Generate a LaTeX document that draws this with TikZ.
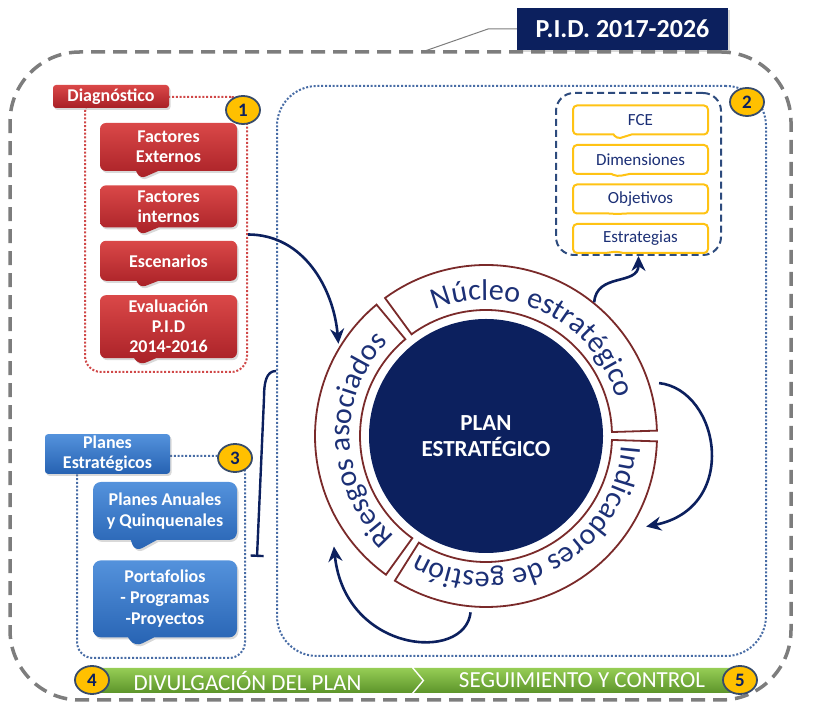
\documentclass[tikz,border=0pt]{standalone}
\usepackage{fontspec}
\setmainfont{Carlito}
\usetikzlibrary{positioning,shapes.geometric,shapes.callouts,shapes.symbols,shadows,decorations.text,arrows.meta}

\definecolor{navy}{RGB}{12,32,94}
\definecolor{inknavy}{RGB}{28,48,118}
\definecolor{framegray}{RGB}{125,125,125}
\definecolor{dotblue}{RGB}{72,108,165}
\definecolor{dotred}{RGB}{208,72,72}
\definecolor{dashnavy}{RGB}{45,75,125}
\definecolor{ringbrown}{RGB}{122,42,42}
\definecolor{redtop}{RGB}{218,72,72}
\definecolor{redbot}{RGB}{168,32,38}
\definecolor{bluetop}{RGB}{84,146,220}
\definecolor{bluebot}{RGB}{38,98,178}
\definecolor{greentop}{RGB}{150,205,85}
\definecolor{greenbot}{RGB}{92,148,42}
\definecolor{badgeyellow}{RGB}{255,192,0}
\definecolor{badgeedge}{RGB}{55,75,105}
\definecolor{boxyellow}{RGB}{255,195,20}

\newcommand{\ringfont}{\fontsize{30}{30}\selectfont}

\tikzstyle{outerframe} = [rectangle, rounded corners=70pt, draw=framegray, line width=3.5pt, dash pattern=on 14pt off 8pt]
\tikzstyle{dotframe} = [rectangle, rounded corners=16pt, line width=2pt, dash pattern=on 2pt off 1.8pt]
\tikzstyle{shade} = [drop shadow={opacity=0.3, shadow xshift=1.5pt, shadow yshift=-2pt}]
\tikzstyle{redlabel} = [rectangle, rounded corners=3pt, top color=redtop, bottom color=redbot, text=white, font=\fontsize{18}{20}\selectfont\bfseries, inner sep=2pt, shade]
\tikzstyle{bluelabel} = [rectangle, rounded corners=3pt, top color=bluetop, bottom color=bluebot, text=white, font=\fontsize{18}{20}\selectfont\bfseries, align=center, inner sep=2pt, shade]
\tikzstyle{redbox} = [rectangle callout, rounded corners=6pt, top color=redtop, bottom color=redbot, text=white, font=\fontsize{18}{20}\selectfont\bfseries, align=center, minimum width=137pt, inner sep=3pt, callout pointer width=22pt, shade]
\tikzstyle{bluebox} = [rectangle callout, rounded corners=8pt, top color=bluetop, bottom color=bluebot, text=white, font=\fontsize{18}{21}\selectfont\bfseries, align=center, minimum width=144pt, inner sep=3pt, callout pointer width=26pt, shade]
\tikzstyle{yellowbox} = [rectangle callout, rounded corners=4pt, draw=boxyellow, line width=2pt, fill=white, text=inknavy, font=\fontsize{17}{19}\selectfont, minimum width=135pt, minimum height=29pt, inner sep=2pt, callout pointer width=18pt]
\tikzstyle{badge} = [ellipse, fill=badgeyellow, draw=badgeedge, line width=1.8pt, text=navy, font=\fontsize{19}{20}\selectfont\bfseries, minimum width=34pt, minimum height=28pt, inner sep=0pt]
\tikzstyle{ringseg} = [draw=ringbrown, fill=white, line width=1.8pt]
\tikzstyle{greenbar} = [signal, top color=greentop, bottom color=greenbot, text=white, font=\fontsize{23}{25}\selectfont, minimum height=25pt, signal pointer angle=100, inner sep=0pt]
\tikzstyle{arrow} = [line width=2.6pt, draw=navy, ->, >={Stealth[length=15pt,width=14pt]}]

\begin{document}
\begin{tikzpicture}[x=1pt, y=1pt]
\useasboundingbox (0,0) rectangle (813,708);

% outer frame and title
\node (outer) [outerframe, minimum width=781pt, minimum height=648pt] at (400.5,332) {};
\coordinate (tick) at (422,656);
\node (pid) [rectangle, fill=navy, text=white, font=\fontsize{26}{28}\selectfont\bfseries, minimum width=211pt, minimum height=42pt, shade] at (622.5,679) {P.I.D. 2017-2026};
\draw [framegray, line width=1pt] (tick) -- (488,679) -- (pid.west);

% strategic area
\node (bigframe) [dotframe, draw=dotblue, rounded corners=40pt, minimum width=489pt, minimum height=570pt] at (521.5,337) {};
\node (kernel) [rectangle, draw=dashnavy, line width=2pt, dash pattern=on 7pt off 4pt, rounded corners=18pt, minimum width=165pt, minimum height=162pt] at (638.5,534) {};
\node (fce) [yellowbox, callout absolute pointer={(617,569)}] at (640.5,588) {FCE};
\node (dimen) [yellowbox, callout absolute pointer={(617,531.5)}, below=8.5pt of fce] {Dimensiones};
\node (objet) [yellowbox, callout absolute pointer={(617,494)}, below=8.5pt of dimen] {Objetivos};
\node (estra) [yellowbox, callout absolute pointer={(617,456.5)}, below=8.5pt of objet] {Estrategias};
\node (two) [badge] at (747,606) {2};

% diagnostico
\node (diagframe) [dotframe, draw=dotred, minimum width=162pt, minimum height=275pt] at (166,473.5) {};
\node (diag) [redlabel, minimum width=116pt, minimum height=23pt] at (111,611.5) {Diagnóstico};
\node (one) [badge] at (243,598) {1};
\node (fExt) [redbox, minimum height=48pt, callout absolute pointer={(140,529)}] at (168.5,561) {Factores\\Externos};
\node (fInt) [redbox, minimum height=42pt, callout absolute pointer={(140,473)}, below=14pt of fExt] {Factores\\internos};
\node (escen) [redbox, minimum height=40pt, callout absolute pointer={(140,420)}, below=13pt of fInt] {Escenarios};
\node (evalu) [redbox, minimum height=63pt, callout absolute pointer={(140,343)}, below=14pt of escen] {Evaluación\\P.I.D\\2014-2016};

% planes estrategicos
\node (planframe) [dotframe, draw=dotblue, minimum width=168pt, minimum height=202pt] at (161,151) {};
\node (planes) [bluelabel, minimum width=125pt, minimum height=38pt] at (107.5,254) {Planes\\Estratégicos};
\node (three) [badge] at (235,250) {3};
\node (pAnual) [bluebox, minimum height=58pt, callout absolute pointer={(135,156)}] at (165,197) {Planes Anuales\\y Quinquenales};
\node (portaf) [bluebox, minimum height=77pt, callout absolute pointer={(135,61)}, below=20pt of pAnual] {Portafolios\\- Programas\\-Proyectos};

% plan estrategico ring
\node (plan) [circle, fill=navy, minimum size=234pt, text=white, font=\fontsize{23}{26}\selectfont\bfseries, align=center] at (486,272) {PLAN\\ESTRATÉGICO};
\begin{scope}[shift={(486,272)}]
\draw [ringseg] (1.8:126) -- (1.8:171) arc[start angle=1.8, end angle=126.2, radius=171] -- (126.2:126) arc[start angle=126.2, end angle=1.8, radius=126] -- cycle;
\draw [ringseg] (-1.8:126) -- (-1.8:171) arc[start angle=-1.8, end angle=-122.2, radius=171] -- (-122.2:126) arc[start angle=-122.2, end angle=-1.8, radius=126] -- cycle;
\draw [ringseg] (129.8:126) -- (129.8:171) arc[start angle=129.8, end angle=234.2, radius=171] -- (234.2:126) arc[start angle=234.2, end angle=129.8, radius=126] -- cycle;
\path [decorate, decoration={text along path, text={|\ringfont|Núcleo estratégico}, text align=center, text color=inknavy}] (126.2:136) arc[start angle=126.2, end angle=1.8, radius=136];
\path [decorate, decoration={text along path, text={|\ringfont|Indicadores de gestión}, text align=center, text color=inknavy}] (-1.8:136) arc[start angle=-1.8, end angle=-122.2, radius=136];
\path [decorate, decoration={text along path, text={|\ringfont|Riesgos asociados}, text align=center, text color=inknavy}] (234.2:136) arc[start angle=234.2, end angle=129.8, radius=136];
\coordinate (rIn) at (148:174);
\coordinate (nOut) at (51:172);
\coordinate (nRight) at (17:181);
\coordinate (iIn) at (-29.5:184);
\coordinate (gOut) at (265:177);
\coordinate (rLow) at (216:188);
\end{scope}

% connectors
\draw [arrow] (diagframe.east) to[out=0, in=95] (rIn);
\draw [arrow] (nOut) .. controls +(2,30) and +(0,-30) .. (kernel.south);
\draw [arrow] (nRight) .. controls (720,318) and (740,200) .. (iIn);
\draw [arrow] (gOut) .. controls (465,45) and (345,55) .. (rLow);
\draw [line width=2.4pt, draw=navy, -{Bar[width=13pt]}] (bigframe.west) .. controls (266,337) and (264,325) .. (264,310) -- ([xshift=11pt]planframe.east);

% bottom bar
\node (divul) [greenbar, signal to=east, minimum width=339pt] at (247.5,27.5) {DIVULGACIÓN DEL PLAN};
\node (segui) [greenbar, signal from=west, minimum width=336pt] at (582,27.5) {SEGUIMIENTO Y CONTROL};
\node (four) [badge] at (92,28) {4};
\node (five) [badge] at (740,28) {5};

\end{tikzpicture}
\end{document}
